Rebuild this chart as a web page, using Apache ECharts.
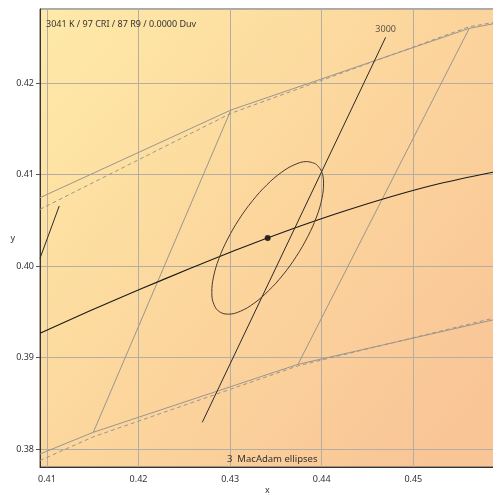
<!DOCTYPE html>
<html><head><meta charset="utf-8">
<script src="https://cdn.jsdelivr.net/npm/echarts@6/dist/echarts.min.js"></script>
<style>html,body{margin:0;padding:0;background:#fff;overflow:hidden}#c{width:493px;height:495px}</style>
</head><body><div id="c"></div>
<script>
// ---- data (CIE 1931 x, y) ----
const infoText = '3041 K / 97 CRI / 87 R9 / 0.0000 Duv';
const footText = '3  MacAdam ellipses';
const xName = 'x';
const yName = 'y';
const isoLabel = '3000';
const xRange = [0.40924, 0.45892];
const yRange = [0.37807, 0.42808];

const planckian = [[0.40924,0.39267],[0.41470,0.39513],[0.42016,0.39747],[0.42561,0.39974],[0.43107,0.40193],[0.43653,0.40397],[0.44199,0.40585],[0.44745,0.40755],[0.45291,0.40902],[0.45892,0.41030]];
const testPoint = [[0.43410,0.40308]];
const isotherm3000 = [[0.42696,0.38295],[0.44698,0.42499]];
const isothermShort = [[0.40924,0.40086],[0.41134,0.40657]];
const ellipse = [[0.43935,0.41117],[0.43836,0.41142],[0.43708,0.41110],[0.43560,0.41024],[0.43402,0.40889],[0.43244,0.40714],[0.43098,0.40512],[0.42973,0.40296],[0.42877,0.40081],[0.42818,0.39881],[0.42800,0.39711],[0.42823,0.39581],[0.42886,0.39501],[0.42984,0.39476],[0.43112,0.39508],[0.43260,0.39594],[0.43418,0.39730],[0.43576,0.39904],[0.43722,0.40106],[0.43847,0.40322],[0.43943,0.40537],[0.44002,0.40737],[0.44020,0.40907],[0.43997,0.41037],[0.43935,0.41117]];
const upperSolid = [[0.40924,0.40748],[0.43009,0.41705],[0.45611,0.42597],[0.45892,0.42650]];
const upperDashed = [[0.40924,0.40621],[0.43009,0.41669],[0.45611,0.42615],[0.45892,0.42663]];
const lowerSolid = [[0.40924,0.37949],[0.41506,0.38186],[0.43741,0.38928],[0.45892,0.39418]];
const lowerDashed = [[0.40924,0.37878],[0.41502,0.38135],[0.43741,0.38912],[0.45892,0.39436]];
const leftSide = [[0.41506,0.38186],[0.43009,0.41705]];
const rightSide = [[0.43741,0.38928],[0.45611,0.42597]];

// ---- chart ----
const FONT = 'Noto Sans';
const gray = '#9c958d';
function line(data, color, width, type, smooth) {
  return {type:'line', data, symbol:'none', smooth: smooth||false, silent:true,
    lineStyle:{color, width, type: type||'solid'}};
}
const chart = echarts.init(document.getElementById('c'));
chart.setOption({
  animation:false,
  textStyle:{fontFamily:FONT},
  title:[
    {text:infoText, left:46, top:20, padding:0, textStyle:{fontSize:9, fontWeight:'normal', color:'#333', fontFamily:FONT}},
    {text:footText, left:227, top:454, padding:0, textStyle:{fontSize:9.5, fontWeight:'normal', color:'#333', fontFamily:FONT}}
  ],
  grid:{left:40, right:-2, top:9, bottom:28, containLabel:false, outerBoundsMode:'none',
    show:true, borderColor:'#555', borderWidth:1,
    backgroundColor:{type:'linear', x:0, y:0, x2:1, y2:0.8, colorStops:[
      {offset:0, color:'#FEEAA8'},{offset:0.5, color:'#FCD79D'},{offset:1, color:'#F9C597'}]}},
  xAxis:{type:'value', min:xRange[0], max:xRange[1], splitNumber:5,
    name:xName, nameLocation:'middle', nameGap:19, nameMoveOverlap:false, nameTextStyle:{fontSize:9, color:'#333'},
    axisLine:{show:true, lineStyle:{color:'#333'}}, axisTick:{show:false},
    axisLabel:{formatter:v=>v.toFixed(2), showMinLabel:false, showMaxLabel:false, fontSize:9, color:'#333', margin:8},
    splitLine:{show:true, lineStyle:{color:'#b3ada4', width:1}}},
  yAxis:{type:'value', min:yRange[0], max:yRange[1], splitNumber:5,
    name:yName, nameLocation:'middle', nameGap:25, nameRotate:0, nameMoveOverlap:false, nameTextStyle:{fontSize:9, color:'#333'},
    axisLine:{show:true, lineStyle:{color:'#333'}}, axisTick:{show:true, length:4, lineStyle:{color:'#555'}},
    axisLabel:{formatter:v=>v.toFixed(2), showMinLabel:false, showMaxLabel:false, fontSize:9, color:'#333', margin:6},
    splitLine:{show:true, lineStyle:{color:'#b3ada4', width:1}}},
  series:[
    line(upperSolid, gray, 1),
    line(upperDashed, gray, 1, [4,3]),
    line(lowerSolid, gray, 1),
    line(lowerDashed, gray, 1, [4,3]),
    line(leftSide, gray, 1),
    line(rightSide, gray, 1),
    line(planckian, '#1a1a1a', 1.1, 'solid', 0.3),
    line(isotherm3000, '#2a2a2a', 1),
    line(isothermShort, '#2a2a2a', 1),
    line(ellipse, '#4a3a2e', 1, 'solid', 0.4),
    {type:'scatter', data:testPoint, symbolSize:6, itemStyle:{color:'#000'}, silent:true},
    {type:'scatter', data:[isotherm3000[1]], symbolSize:0, silent:true,
      label:{show:true, formatter:isoLabel, position:'top', distance:3, fontSize:9, color:'#333', fontFamily:FONT}}
  ]
});
</script></body></html>
